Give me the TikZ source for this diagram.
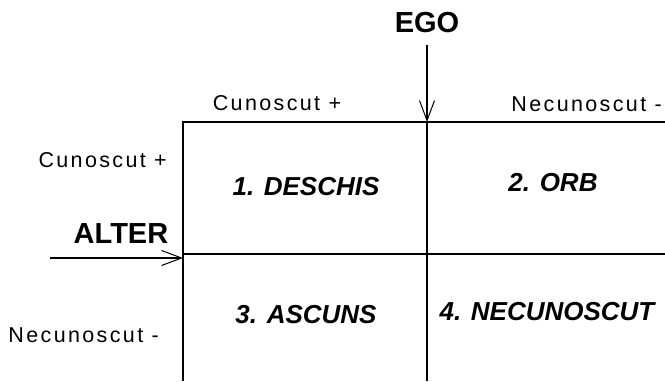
\documentclass[tikz,border=0pt]{standalone}
\usepackage{fontspec}
\setmainfont{Liberation Sans}
\newfontfamily\spacedfont[LetterSpace=11]{Liberation Sans}
\usetikzlibrary{arrows.meta}
\begin{document}
\begin{tikzpicture}[x=1pt,y=-1pt,
  grid/.style={line width=1.2pt},
  arr/.style={line width=1.2pt,-{Straight Barb[length=20pt,width=15pt,line width=1pt]}},
  axis/.style={font=\fontsize{29}{32}\selectfont\bfseries,inner sep=0pt},
  lab/.style={font=\spacedfont\fontsize{21.5}{24}\selectfont,inner sep=0pt},
  cell/.style={font=\fontsize{26}{30}\selectfont\bfseries\itshape,inner sep=0pt,anchor=base}]
\useasboundingbox (0,0) rectangle (665,381);
% axis labels
\node[axis,anchor=base] (ego) at (427,32) {EGO};
\node[axis,anchor=base] (alter) at (121,243) {ALTER};
\coordinate (egostart) at (427,45);
\coordinate (egotip) at (427,122);
\coordinate (alterstart) at (50,258);
\coordinate (altertip) at (183,258);
% grid
\coordinate (tl) at (182,122);
\coordinate (tr) at (665,122);
\coordinate (lb) at (183,381);
\coordinate (ml) at (183,254);
\coordinate (mr) at (665,254);
\coordinate (vb) at (427,381);
\draw[grid] (tl) -- (tr);
\draw[grid] (183,122) -- (lb);
\draw[grid] (ml) -- (mr);
\draw[grid] (egotip) -- (vb);
% arrows
\draw[arr] (egostart) -- (egotip);
\draw[arr] (alterstart) -- (altertip);
% side labels
\node[lab,anchor=base] (c1) at (277,110) {Cunoscut +};
\node[lab,anchor=base east] (n1) at (662,111) {Necunoscut -};
\node[lab,anchor=base east] (c2) at (167,167) {Cunoscut +};
\node[lab,anchor=base east] (n2) at (159,342) {Necunoscut -};
% cells
\node[cell] (q1) at (306,195) {1. DESCHIS};
\node[cell] (q2) at (553,191) {2. ORB};
\node[cell] (q3) at (306,323) {3. ASCUNS};
\node[cell] (q4) at (547,320) {4. NECUNOSCUT};
\end{tikzpicture}
\end{document}
